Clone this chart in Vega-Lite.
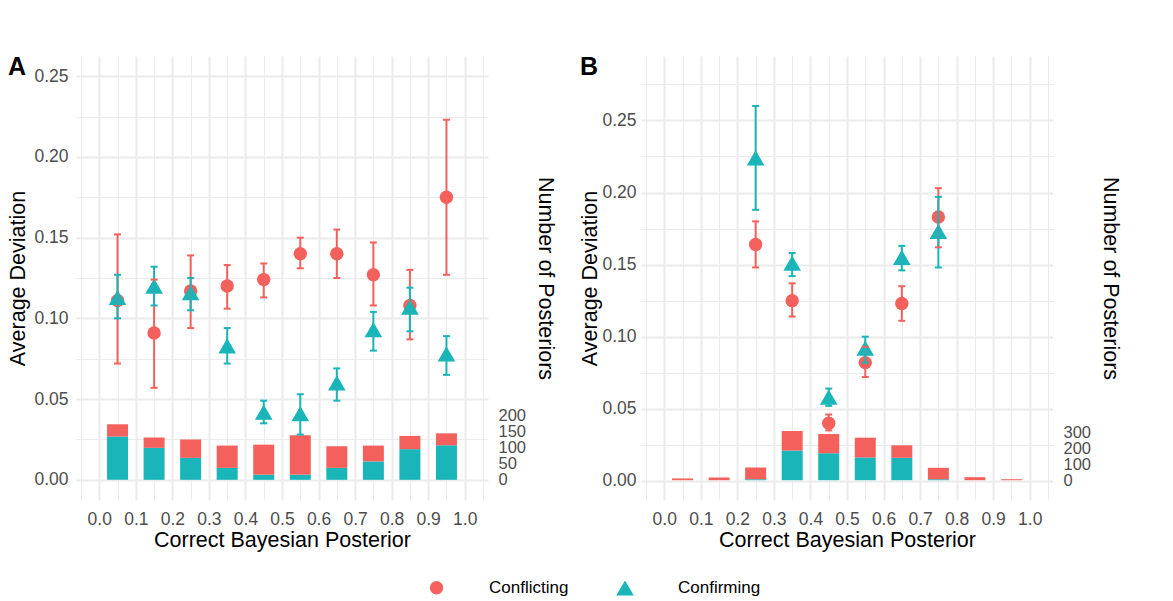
{
  "$schema": "https://vega.github.io/schema/vega-lite/v6.json",
  "padding": {"left": 7, "top": 55, "right": 5, "bottom": 5},
  "background": "white",
  "spacing": 23,
  "config": {
    "view": {"stroke": null},
    "font": "Liberation Sans",
    "axis": {
      "domain": false,
      "ticks": false,
      "labelColor": "#4D4D4D",
      "labelFontSize": 17.5,
      "titleFontSize": 21.5,
      "titleFontWeight": "normal",
      "titleColor": "black",
      "gridColor": "#EBEBEB"
    }
  },
  "datasets": {
    "barsA": [
      {"x": 0.05, "type": "Confirming", "n": 134}, {"x": 0.15, "type": "Confirming", "n": 99},
      {"x": 0.25, "type": "Confirming", "n": 68}, {"x": 0.35, "type": "Confirming", "n": 37},
      {"x": 0.45, "type": "Confirming", "n": 16}, {"x": 0.55, "type": "Confirming", "n": 16},
      {"x": 0.65, "type": "Confirming", "n": 37}, {"x": 0.75, "type": "Confirming", "n": 57},
      {"x": 0.85, "type": "Confirming", "n": 95}, {"x": 0.95, "type": "Confirming", "n": 107},
      {"x": 0.05, "type": "Conflicting", "n": 38}, {"x": 0.15, "type": "Conflicting", "n": 32},
      {"x": 0.25, "type": "Conflicting", "n": 57}, {"x": 0.35, "type": "Conflicting", "n": 69},
      {"x": 0.45, "type": "Conflicting", "n": 93}, {"x": 0.55, "type": "Conflicting", "n": 122},
      {"x": 0.65, "type": "Conflicting", "n": 67}, {"x": 0.75, "type": "Conflicting", "n": 49},
      {"x": 0.85, "type": "Conflicting", "n": 41}, {"x": 0.95, "type": "Conflicting", "n": 37}
    ],
    "barsB": [
      {"x": 0.05, "type": "Confirming", "n": 0}, {"x": 0.15, "type": "Confirming", "n": 0},
      {"x": 0.25, "type": "Confirming", "n": 6}, {"x": 0.35, "type": "Confirming", "n": 187},
      {"x": 0.45, "type": "Confirming", "n": 170}, {"x": 0.55, "type": "Confirming", "n": 143},
      {"x": 0.65, "type": "Confirming", "n": 141}, {"x": 0.75, "type": "Confirming", "n": 6},
      {"x": 0.85, "type": "Confirming", "n": 0}, {"x": 0.95, "type": "Confirming", "n": 0},
      {"x": 0.05, "type": "Conflicting", "n": 11}, {"x": 0.15, "type": "Conflicting", "n": 17},
      {"x": 0.25, "type": "Conflicting", "n": 74}, {"x": 0.35, "type": "Conflicting", "n": 123},
      {"x": 0.45, "type": "Conflicting", "n": 121}, {"x": 0.55, "type": "Conflicting", "n": 125},
      {"x": 0.65, "type": "Conflicting", "n": 79}, {"x": 0.75, "type": "Conflicting", "n": 72},
      {"x": 0.85, "type": "Conflicting", "n": 19}, {"x": 0.95, "type": "Conflicting", "n": 6}
    ],
    "ptsA": [
      {"x": 0.05, "type": "Conflicting", "mean": 0.111, "lo": 0.072, "hi": 0.152},
      {"x": 0.15, "type": "Conflicting", "mean": 0.091, "lo": 0.057, "hi": 0.124},
      {"x": 0.25, "type": "Conflicting", "mean": 0.117, "lo": 0.094, "hi": 0.139},
      {"x": 0.35, "type": "Conflicting", "mean": 0.120, "lo": 0.106, "hi": 0.133},
      {"x": 0.45, "type": "Conflicting", "mean": 0.124, "lo": 0.113, "hi": 0.134},
      {"x": 0.55, "type": "Conflicting", "mean": 0.140, "lo": 0.131, "hi": 0.150},
      {"x": 0.65, "type": "Conflicting", "mean": 0.140, "lo": 0.125, "hi": 0.155},
      {"x": 0.75, "type": "Conflicting", "mean": 0.127, "lo": 0.108, "hi": 0.147},
      {"x": 0.85, "type": "Conflicting", "mean": 0.108, "lo": 0.087, "hi": 0.130},
      {"x": 0.95, "type": "Conflicting", "mean": 0.175, "lo": 0.127, "hi": 0.223},
      {"x": 0.05, "type": "Confirming", "mean": 0.113, "lo": 0.100, "hi": 0.127},
      {"x": 0.15, "type": "Confirming", "mean": 0.120, "lo": 0.108, "hi": 0.132},
      {"x": 0.25, "type": "Confirming", "mean": 0.116, "lo": 0.105, "hi": 0.125},
      {"x": 0.35, "type": "Confirming", "mean": 0.083, "lo": 0.072, "hi": 0.094},
      {"x": 0.45, "type": "Confirming", "mean": 0.042, "lo": 0.035, "hi": 0.049},
      {"x": 0.55, "type": "Confirming", "mean": 0.041, "lo": 0.028, "hi": 0.053},
      {"x": 0.65, "type": "Confirming", "mean": 0.060, "lo": 0.049, "hi": 0.069},
      {"x": 0.75, "type": "Confirming", "mean": 0.093, "lo": 0.080, "hi": 0.104},
      {"x": 0.85, "type": "Confirming", "mean": 0.107, "lo": 0.092, "hi": 0.119},
      {"x": 0.95, "type": "Confirming", "mean": 0.078, "lo": 0.065, "hi": 0.089}
    ],
    "ptsB": [
      {"x": 0.25, "type": "Conflicting", "mean": 0.164, "lo": 0.148, "hi": 0.180},
      {"x": 0.35, "type": "Conflicting", "mean": 0.125, "lo": 0.114, "hi": 0.137},
      {"x": 0.45, "type": "Conflicting", "mean": 0.040, "lo": 0.035, "hi": 0.046},
      {"x": 0.55, "type": "Conflicting", "mean": 0.082, "lo": 0.072, "hi": 0.093},
      {"x": 0.65, "type": "Conflicting", "mean": 0.123, "lo": 0.111, "hi": 0.135},
      {"x": 0.75, "type": "Conflicting", "mean": 0.183, "lo": 0.162, "hi": 0.203},
      {"x": 0.25, "type": "Confirming", "mean": 0.224, "lo": 0.188, "hi": 0.260},
      {"x": 0.35, "type": "Confirming", "mean": 0.151, "lo": 0.142, "hi": 0.158},
      {"x": 0.45, "type": "Confirming", "mean": 0.058, "lo": 0.052, "hi": 0.064},
      {"x": 0.55, "type": "Confirming", "mean": 0.092, "lo": 0.082, "hi": 0.100},
      {"x": 0.65, "type": "Confirming", "mean": 0.155, "lo": 0.146, "hi": 0.163},
      {"x": 0.75, "type": "Confirming", "mean": 0.173, "lo": 0.148, "hi": 0.197}
    ]
  },
  "hconcat": [
    {
      "title": {"text": "A", "anchor": "start", "frame": "bounds", "fontSize": 25, "fontWeight": "bold", "baseline": "bottom", "offset": 0, "dy": 49, "color": "black"},
      "width": 412,
      "height": 444,
      "encoding": {
        "x": {
          "field": "x", "type": "quantitative",
          "scale": {"domain": [-0.05, 1.05], "nice": false, "zero": false},
          "axis": {
            "title": "Correct Bayesian Posterior",
            "grid": true,
            "values": [-0.05, 0, 0.05, 0.1, 0.15, 0.2, 0.25, 0.3, 0.35, 0.4, 0.45, 0.5, 0.55, 0.6, 0.65, 0.7, 0.75, 0.8, 0.85, 0.9, 0.95, 1, 1.05],
            "labelExpr": "abs(datum.value*10 - round(datum.value*10)) < 0.001 ? format(datum.value, '.1f') : ''",
            "gridWidth": {"condition": {"test": "abs(datum.value*10 - round(datum.value*10)) < 0.001", "value": 2}, "value": 1},
            "labelPadding": 10,
            "titlePadding": 2,
            "labelFlush": false,
            "labelOverlap": false
          }
        }
      },
      "layer": [
        {
          "data": {"name": "barsA"},
          "mark": {"type": "bar", "width": 21},
          "encoding": {
            "y": {
              "field": "n", "type": "quantitative", "stack": "zero",
              "scale": {"domain": [-62.5, 1312.5], "nice": false, "zero": false},
              "axis": {"orient": "right", "title": "Number of Posteriors", "values": [0, 50, 100, 150, 200], "grid": false, "labelPadding": 10, "titlePadding": 8, "labelAlign": "left", "labelFontSize": 16.5, "labelFlush": false, "labelOverlap": false}
            },
            "fill": {"field": "type", "type": "nominal", "scale": {"domain": ["Confirming", "Conflicting"], "range": ["#19B5B8", "#F4615D"]}, "legend": null},
            "order": {"field": "type", "sort": "ascending"}
          }
        },
        {
          "data": {"name": "ptsA"},
          "layer": [
            {
              "mark": {"type": "point", "filled": true, "opacity": 1},
              "encoding": {
                "y": {
                  "field": "mean", "type": "quantitative",
                  "scale": {"domain": [-0.0125, 0.2625], "nice": false, "zero": false},
                  "axis": {
                    "orient": "left", "title": "Average Deviation", "grid": true,
                    "values": [0, 0.025, 0.05, 0.075, 0.1, 0.125, 0.15, 0.175, 0.2, 0.225, 0.25],
                    "labelExpr": "abs(datum.value*20 - round(datum.value*20)) < 0.001 ? format(datum.value, '.2f') : ''",
                    "gridWidth": {"condition": {"test": "abs(datum.value*20 - round(datum.value*20)) < 0.001", "value": 2}, "value": 1},
                    "labelPadding": 8, "titlePadding": 4, "labelFlush": false, "labelOverlap": false
                  }
                },
                "color": {"field": "type", "type": "nominal", "scale": {"domain": ["Conflicting", "Confirming"], "range": ["#F4615D", "#19B5B8"]},
                  "legend": {"title": null, "orient": "none", "legendX": 352, "legendY": 523, "direction": "horizontal", "labelFontSize": 17, "labelColor": "black", "labelOffset": 44, "columnPadding": 47, "symbolStrokeWidth": 0, "symbolOpacity": 1}},
                "shape": {"field": "type", "type": "nominal", "scale": {"domain": ["Conflicting", "Confirming"], "range": ["circle", "triangle-up"]},
                  "legend": {"title": null, "orient": "none", "legendX": 352, "legendY": 523, "direction": "horizontal", "labelFontSize": 17, "labelColor": "black", "labelOffset": 44, "columnPadding": 47, "symbolStrokeWidth": 0, "symbolOpacity": 1}},
                "size": {"field": "type", "type": "nominal", "scale": {"domain": ["Conflicting", "Confirming"], "range": [180, 310]},
                  "legend": {"title": null, "orient": "none", "legendX": 352, "legendY": 523, "direction": "horizontal", "labelFontSize": 17, "labelColor": "black", "labelOffset": 44, "columnPadding": 47, "symbolStrokeWidth": 0, "symbolOpacity": 1}}
              }
            },
            {
              "mark": {"type": "rule", "strokeWidth": 2},
              "encoding": {
                "y": {"field": "lo", "type": "quantitative"},
                "y2": {"field": "hi"},
                "stroke": {"field": "type", "type": "nominal", "scale": {"range": ["#19B5B8", "#F4615D"]}, "legend": null}
              }
            },
            {
              "mark": {"type": "tick", "orient": "horizontal", "thickness": 2, "size": 7, "opacity": 1},
              "encoding": {
                "y": {"field": "lo", "type": "quantitative"},
                "fill": {"field": "type", "type": "nominal", "scale": {"domain": ["Confirming", "Conflicting"], "range": ["#19B5B8", "#F4615D"]}, "legend": null}
              }
            },
            {
              "mark": {"type": "tick", "orient": "horizontal", "thickness": 2, "size": 7, "opacity": 1},
              "encoding": {
                "y": {"field": "hi", "type": "quantitative"},
                "fill": {"field": "type", "type": "nominal", "scale": {"domain": ["Confirming", "Conflicting"], "range": ["#19B5B8", "#F4615D"]}, "legend": null}
              }
            }
          ]
        }
      ],
      "resolve": {"scale": {"y": "independent"}}
    },
    {
      "title": {"text": "B", "anchor": "start", "frame": "bounds", "fontSize": 25, "fontWeight": "bold", "baseline": "bottom", "offset": 0, "dy": 49, "color": "black"},
      "width": 412,
      "height": 444,
      "encoding": {
        "x": {
          "field": "x", "type": "quantitative",
          "scale": {"domain": [-0.05, 1.05], "nice": false, "zero": false},
          "axis": {
            "title": "Correct Bayesian Posterior",
            "grid": true,
            "values": [-0.05, 0, 0.05, 0.1, 0.15, 0.2, 0.25, 0.3, 0.35, 0.4, 0.45, 0.5, 0.55, 0.6, 0.65, 0.7, 0.75, 0.8, 0.85, 0.9, 0.95, 1, 1.05],
            "labelExpr": "abs(datum.value*10 - round(datum.value*10)) < 0.001 ? format(datum.value, '.1f') : ''",
            "gridWidth": {"condition": {"test": "abs(datum.value*10 - round(datum.value*10)) < 0.001", "value": 2}, "value": 1},
            "labelPadding": 10,
            "titlePadding": 2,
            "labelFlush": false,
            "labelOverlap": false
          }
        }
      },
      "layer": [
        {
          "data": {"name": "barsB"},
          "mark": {"type": "bar", "width": 21},
          "encoding": {
            "y": {
              "field": "n", "type": "quantitative", "stack": "zero",
              "scale": {"domain": [-125, 2675], "nice": false, "zero": false},
              "axis": {"orient": "right", "title": "Number of Posteriors", "values": [0, 100, 200, 300], "grid": false, "labelPadding": 10, "titlePadding": 8, "labelAlign": "left", "labelFontSize": 16.5, "labelFlush": false, "labelOverlap": false}
            },
            "fill": {"field": "type", "type": "nominal", "scale": {"domain": ["Confirming", "Conflicting"], "range": ["#19B5B8", "#F4615D"]}, "legend": null},
            "order": {"field": "type", "sort": "ascending"}
          }
        },
        {
          "data": {"name": "ptsB"},
          "layer": [
            {
              "mark": {"type": "point", "filled": true, "opacity": 1},
              "encoding": {
                "y": {
                  "field": "mean", "type": "quantitative",
                  "scale": {"domain": [-0.0133, 0.2947], "nice": false, "zero": false},
                  "axis": {
                    "orient": "left", "title": "Average Deviation", "grid": true,
                    "values": [0, 0.025, 0.05, 0.075, 0.1, 0.125, 0.15, 0.175, 0.2, 0.225, 0.25, 0.275],
                    "labelExpr": "abs(datum.value*20 - round(datum.value*20)) < 0.001 ? format(datum.value, '.2f') : ''",
                    "gridWidth": {"condition": {"test": "abs(datum.value*20 - round(datum.value*20)) < 0.001", "value": 2}, "value": 1},
                    "labelPadding": 5, "titlePadding": 0, "labelFlush": false, "labelOverlap": false
                  }
                },
                "color": {"field": "type", "type": "nominal", "scale": {"domain": ["Conflicting", "Confirming"], "range": ["#F4615D", "#19B5B8"]}},
                "shape": {"field": "type", "type": "nominal", "scale": {"domain": ["Conflicting", "Confirming"], "range": ["circle", "triangle-up"]}},
                "size": {"field": "type", "type": "nominal", "scale": {"domain": ["Conflicting", "Confirming"], "range": [180, 310]}}
              }
            },
            {
              "mark": {"type": "rule", "strokeWidth": 2},
              "encoding": {
                "y": {"field": "lo", "type": "quantitative"},
                "y2": {"field": "hi"},
                "stroke": {"field": "type", "type": "nominal", "scale": {"range": ["#19B5B8", "#F4615D"]}, "legend": null}
              }
            },
            {
              "mark": {"type": "tick", "orient": "horizontal", "thickness": 2, "size": 7, "opacity": 1},
              "encoding": {
                "y": {"field": "lo", "type": "quantitative"},
                "fill": {"field": "type", "type": "nominal", "scale": {"domain": ["Confirming", "Conflicting"], "range": ["#19B5B8", "#F4615D"]}, "legend": null}
              }
            },
            {
              "mark": {"type": "tick", "orient": "horizontal", "thickness": 2, "size": 7, "opacity": 1},
              "encoding": {
                "y": {"field": "hi", "type": "quantitative"},
                "fill": {"field": "type", "type": "nominal", "scale": {"domain": ["Confirming", "Conflicting"], "range": ["#19B5B8", "#F4615D"]}, "legend": null}
              }
            }
          ]
        }
      ],
      "resolve": {"scale": {"y": "independent"}}
    }
  ],
  "resolve": {"scale": {"y": "independent"}}
}
